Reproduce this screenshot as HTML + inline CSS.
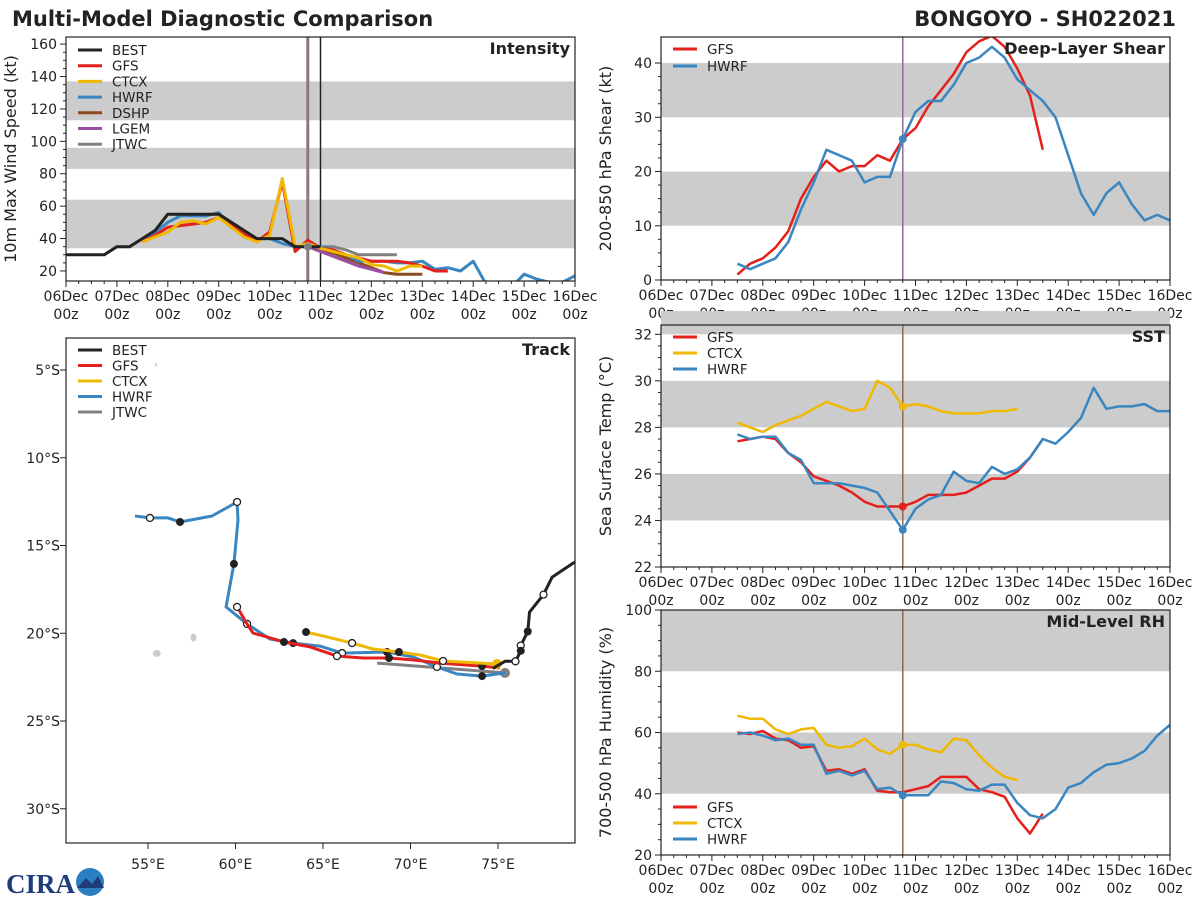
<!DOCTYPE html>
<html><head><meta charset="utf-8">
<style>
html,body{margin:0;padding:0;background:#fff;}
svg{display:block;font-family:"DejaVu Sans","Liberation Sans",sans-serif;}
</style></head>
<body>
<svg id="chart" width="1200" height="900" viewBox="0 0 1200 900" xmlns="http://www.w3.org/2000/svg">
<defs>
<clipPath id="clipInt"><rect x="66" y="37" width="509" height="244"/></clipPath>
<clipPath id="clipTrk"><rect x="66" y="338" width="509" height="505"/></clipPath>
<clipPath id="clipShr"><rect x="661" y="37" width="509" height="243"/></clipPath>
<clipPath id="clipSst"><rect x="661" y="325" width="509" height="242"/></clipPath>
<clipPath id="clipRh"><rect x="661" y="610" width="509" height="245"/></clipPath>
</defs>
<text x="12" y="26" font-size="21" font-weight="bold" fill="#222">Multi-Model Diagnostic Comparison</text>
<text x="1176" y="26" font-size="21" font-weight="bold" fill="#222" text-anchor="end">BONGOYO - SH022021</text>
<g>
<text x="6" y="893" font-size="27" font-weight="bold" fill="#1f3c7a" font-family="Liberation Serif,serif">CIRA</text>
<circle cx="90" cy="882" r="14" fill="#2a7fc0"/>
<path d="M77 888 L86 878 L92 884 L98 876 L104 888 Z" fill="#1f3c7a"/>
</g>
</svg>
<script>
// ---------- data ----------
const dayLabels = ["06Dec","07Dec","08Dec","09Dec","10Dec","11Dec","12Dec","13Dec","14Dec","15Dec","16Dec"];
const bestInt = [30,30,30,30,35,35,40,45,55,55,55,55,55,50,45,40,40,40,35,35,35];
const gfsInt  = [38,42,47,48,49,50,53,48,43,38,44,75,32,39,34,33,30,28,26,26,26,25,23,20,20];
const ctcxInt = [38,41,44,50,51,49,53,47,41,38,42,77,35,37,34,32,30,28,24,23,20,23,23];
const hwrfInt = [38,44,50,54,54,54,56,47,42,40,40,37,35,36,35,33,30,26,26,26,25,25,26,21,22,20,26,12,10,10,18,15,13,13,17,17];
const dshpInt = [35,33,31,28,25,22,19,18,18,18];
const lgemInt = [35,32,29,26,23,21,19];
const jtwcInt = [35,35,35,33,30,30,30,30];
const intTicks = [20,40,60,80,100,120,140,160];

const gfsShr  = [1,3,4,6,9,15,19,22,20,21,21,23,22,26,28,32,35,38,42,44,45,43,39,34,24];
const hwrfShr = [3,2,3,4,7,13,18,24,23,22,18,19,19,26,31,33,33,36,40,41,43,41,37,35,33,30,23,16,12,16,18,14,11,12,11];
const shrTicks = [0,10,20,30,40];

const gfsSst  = [27.4,27.5,27.6,27.5,26.9,26.5,25.9,25.7,25.5,25.2,24.8,24.6,24.6,24.6,24.8,25.1,25.1,25.1,25.2,25.5,25.8,25.8,26.1,26.7,27.5];
const hwrfSst = [27.7,27.5,27.6,27.6,26.9,26.6,25.6,25.6,25.6,25.5,25.4,25.2,24.4,23.6,24.5,24.9,25.1,26.1,25.7,25.6,26.3,26.0,26.2,26.7,27.5,27.3,27.8,28.4,29.7,28.8,28.9,28.9,29.0,28.7,28.7];
const ctcxSst = [28.2,28.0,27.8,28.1,28.3,28.5,28.8,29.1,28.9,28.7,28.8,30.0,29.7,28.9,29.0,28.9,28.7,28.6,28.6,28.6,28.7,28.7,28.8];
const sstTicks = [22,24,26,28,30,32];

const gfsRh  = [60,59.5,60.5,58,57.5,55,55.5,47.5,48,46.5,48,41,40.5,40.5,41.5,42.5,45.5,45.5,45.5,41.5,40.5,39,32,27,33.5];
const hwrfRh = [59.5,60,59,57.5,58,56,56,46.5,47.5,46,47.5,41.5,42,39.5,39.5,39.5,44,43.5,41.5,41,43,43,37,33,32,35,42,43.5,47,49.5,50,51.5,54,59,62.5];
const ctcxRh = [65.5,64.5,64.5,61,59.5,61,61.5,56,55,55.5,58,54.5,53,56,56,54.5,53.5,58,57.5,52.5,48.5,45.5,44.5];
const rhTicks = [20,40,60,80,100];

const bestLon = [80.2,79.3,78.1,77.6,76.8,76.7,76.3,76.3,76.0,75.4,74.7];
const bestLat = [15.5,16.0,16.8,17.8,18.8,19.9,20.7,21.0,21.6,21.6,22.0];
const bestMk  = ["","","","o","","f","o","f","o","",""];
const hwrfLon = [54.26,55.11,56.14,56.83,58.66,60.09,60.14,59.91,59.46,60.66,61.97,63.29,64.83,66.09,68.66,70.14,71.51,72.66,74.09,75.4];
const hwrfLat = [13.32,13.43,13.43,13.66,13.32,12.52,13.55,16.05,18.5,19.47,20.33,20.56,20.73,21.13,21.07,21.35,21.92,22.32,22.44,22.26];
const hwrfMk  = ["","o","","f","","o","","f","","o","","f","","o","f","","o","","f",""];
const gfsLon = [60.09,60.66,61.0,61.8,62.77,64.26,65.8,67.29,68.77,70.14,71.69,74.09,75.11];
const gfsLat = [18.5,19.47,19.99,20.21,20.5,20.78,21.3,21.41,21.41,21.52,21.7,21.87,21.98];
const gfsMk  = ["o","","","","f","","o","","f","","","f",""];
const ctcxLon = [64.03,65.23,66.66,67.86,69.34,70.54,71.86,74.94];
const ctcxLat = [19.93,20.21,20.56,20.9,21.07,21.24,21.58,21.75];
const ctcxMk  = ["f","","o","","f","","o","big"];
const jtwcLon = [68.09,75.4];
const jtwcLat = [21.7,22.26];
const lonTicks = [55,60,65,70,75];
const latTicks = [5,10,15,20,25,30];

// ---------- helpers ----------
const NS="http://www.w3.org/2000/svg";
const svg=document.getElementById('chart');
function mk(tag,attrs,parent){const e=document.createElementNS(NS,tag);for(const k in attrs)e.setAttribute(k,attrs[k]);(parent||svg).appendChild(e);return e;}
const C={best:"#222222",gfs:"#e4201c",ctcx:"#f0b800",hwrf:"#3a86c0",dshp:"#8b4a20",lgem:"#9b4ea3",jtwc:"#808080"};

function timePanel(x0,y0,w,h,ymin,ymax){
  return {x0,y0,w,h,
    X:t=>x0+t/240*w,
    Y:v=>y0+h-(v-ymin)/(ymax-ymin)*h};
}
function band(p,a,b,clip){
  const r=mk('rect',{x:p.x0,y:p.Y(b),width:p.w,height:p.Y(a)-p.Y(b),fill:"#cccccc","clip-path":clip});
  
  
}
function series(p,vals,startH,color,name,clip,width){
  const pts=vals.map((v,i)=>p.X(startH+i*6).toFixed(1)+","+p.Y(v).toFixed(1)).join(" ");
  const l=mk('polyline',{points:pts,fill:"none",stroke:color,"stroke-width":width||3,"stroke-linejoin":"round","clip-path":clip});
  
  
}
function dot(p,vals,startH,atH,color,name){
  const i=(atH-startH)/6;
  const c=mk('circle',{cx:p.X(atH),cy:p.Y(vals[i]),r:4,fill:color});
  
  
}
function frame(p,ticks,labelFmt,title,ylabel,xlabels){
  for(let hh=0;hh<=240;hh+=6){
    const x=p.X(hh), major=hh%24===0;
    mk('line',{x1:x,x2:x,y1:p.y0+p.h,y2:p.y0+p.h+(major?6:3),stroke:"#222","stroke-width":1});
  }
  if(xlabels){
    dayLabels.forEach((d,i)=>{
      const x=p.X(i*24);
      const t=mk('text',{x:x,y:p.y0+p.h+20,"font-size":14,"text-anchor":"middle",fill:"#222"});t.textContent=d;
      
      
      const t2=mk('text',{x:x,y:p.y0+p.h+38,"font-size":14,"text-anchor":"middle",fill:"#222"});t2.textContent="00z";
      
      
    });
  }
  ticks.forEach((v,i)=>{
    const y=p.Y(v);
    mk('line',{x1:p.x0-6,x2:p.x0,y1:y,y2:y,stroke:"#222"});
    const t=mk('text',{x:p.x0-9,y:y+5,"font-size":14,"text-anchor":"end",fill:"#222"});t.textContent=labelFmt(v);
    
    
    if(i<ticks.length-1){
      const step=(ticks[i+1]-v)/4;
      for(let k=1;k<4;k++){const yy=p.Y(v+k*step);mk('line',{x1:p.x0-3,x2:p.x0,y1:yy,y2:yy,stroke:"#222"});}
    }
  });
  const r=mk('rect',{x:p.x0,y:p.y0,width:p.w,height:p.h,fill:"none",stroke:"#222","stroke-width":1.2});
  
  
  const tt=mk('text',{x:p.x0+p.w-5,y:p.y0+17,"font-size":16,"font-weight":"bold","text-anchor":"end",fill:"#222"});tt.textContent=title;
  
  
  const cy=p.y0+p.h/2, cx=p.x0-50;
  const yl=mk('text',{x:cx,y:cy,"font-size":16,"text-anchor":"middle",fill:"#222",transform:`rotate(-90 ${cx} ${cy})`});yl.textContent=ylabel;
  
  
}
function legend(x,y,items,step){
  items.forEach((it,i)=>{
    const yy=y+i*step;
    mk('line',{x1:x,x2:x+24,y1:yy,y2:yy,stroke:it[1],"stroke-width":3});
    const t=mk('text',{x:x+34,y:yy+5,"font-size":13.5,fill:"#222"});t.textContent=it[0];
    
    
  });
}
function vline(p,h,color,w){mk('line',{x1:p.X(h),x2:p.X(h),y1:p.y0,y2:p.y0+p.h,stroke:color,"stroke-width":w||1.5});}

// ---------- intensity ----------
const pI=timePanel(66,37,509,244,13.8,164.4);
band(pI,34,64);band(pI,83,96);band(pI,113,137);
vline(pI,114,"#8a7a76",3);vline(pI,120,"#222",1.5);
series(pI,jtwcInt,114,C.jtwc,'jtwc-intensity','url(#clipInt)');
series(pI,dshpInt,114,C.dshp,'dshp-intensity','url(#clipInt)');
series(pI,lgemInt,114,C.lgem,'lgem-intensity','url(#clipInt)');
series(pI,hwrfInt,36,C.hwrf,'hwrf-intensity','url(#clipInt)');
series(pI,gfsInt,36,C.gfs,'gfs-intensity','url(#clipInt)');
series(pI,ctcxInt,36,C.ctcx,'ctcx-intensity','url(#clipInt)');
series(pI,bestInt,0,C.best,'best-intensity','url(#clipInt)');
dot(pI,jtwcInt,114,114,"#808080",'jtwc-start-dot');
frame(pI,intTicks,v=>v,"Intensity","10m Max Wind Speed (kt)",true);
legend(78,50,[["BEST",C.best],["GFS",C.gfs],["CTCX",C.ctcx],["HWRF",C.hwrf],["DSHP",C.dshp],["LGEM",C.lgem],["JTWC",C.jtwc]],15.7);

// ---------- shear ----------
const pS=timePanel(661,37,509,243,0,44.8);
band(pS,10,20);band(pS,30,40);
vline(pS,114,"#8e6a9a",1.5);
series(pS,gfsShr,36,C.gfs,'gfs-shear','url(#clipShr)',2.5);
series(pS,hwrfShr,36,C.hwrf,'hwrf-shear','url(#clipShr)',2.5);
dot(pS,hwrfShr,36,114,C.hwrf,'hwrf-shear-dot');
frame(pS,shrTicks,v=>v,"Deep-Layer Shear","200-850 hPa Shear (kt)",true);
legend(673,49,[["GFS",C.gfs],["HWRF",C.hwrf]],17);

// ---------- SST ----------
const pT=timePanel(661,325,509,242,22,32.4);
band(pT,24,26);band(pT,28,30);band(pT,32,33);
vline(pT,114,"#8a6a56",1.5);
series(pT,ctcxSst,36,C.ctcx,'ctcx-sst','url(#clipSst)',2.5);
series(pT,gfsSst,36,C.gfs,'gfs-sst','url(#clipSst)',2.5);
series(pT,hwrfSst,36,C.hwrf,'hwrf-sst','url(#clipSst)',2.5);
dot(pT,gfsSst,36,114,C.gfs,'gfs-sst-dot');dot(pT,hwrfSst,36,114,C.hwrf,'hwrf-sst-dot');dot(pT,ctcxSst,36,114,C.ctcx,'ctcx-sst-dot');
frame(pT,sstTicks,v=>v,"SST","Sea Surface Temp (°C)",true);
legend(673,337,[["GFS",C.gfs],["CTCX",C.ctcx],["HWRF",C.hwrf]],16);

// ---------- RH ----------
const pR=timePanel(661,610,509,245,20,100);
band(pR,40,60);band(pR,80,100);
vline(pR,114,"#8a6a56",1.5);
series(pR,ctcxRh,36,C.ctcx,'ctcx-rh','url(#clipRh)',2.5);
series(pR,gfsRh,36,C.gfs,'gfs-rh','url(#clipRh)',2.5);
series(pR,hwrfRh,36,C.hwrf,'hwrf-rh','url(#clipRh)',2.5);
dot(pR,ctcxRh,36,114,C.ctcx,'ctcx-rh-dot');dot(pR,hwrfRh,36,114,C.hwrf,'hwrf-rh-dot');
frame(pR,rhTicks,v=>v,"Mid-Level RH","700-500 hPa Humidity (%)",true);
legend(673,807,[["GFS",C.gfs],["CTCX",C.ctcx],["HWRF",C.hwrf]],16);

// ---------- track ----------
const LX=lon=>148+(lon-55)*17.5, LY=lat=>370+(lat-5)*17.55;
function island(lon,lat,rx,ry){const e=mk('ellipse',{cx:LX(lon),cy:LY(lat),rx,ry,fill:"#cccccc"});
  
  }
island(55.5,21.15,4,3.5);island(57.6,20.25,3,4);island(55.45,4.7,1,2);
function track(lons,lats,mks,color,name,w){
  const pts=lons.map((v,i)=>LX(v).toFixed(1)+","+LY(lats[i]).toFixed(1)).join(" ");
  const l=mk('polyline',{points:pts,fill:"none",stroke:color,"stroke-width":w||3,"stroke-linejoin":"round","clip-path":"url(#clipTrk)"});
  
  
  (mks||[]).forEach((m,i)=>{
    if(!m)return;
    let c;
    if(m==="o")c=mk('circle',{cx:LX(lons[i]),cy:LY(lats[i]),r:3.5,fill:"#fff",stroke:"#222","stroke-width":1.3});
    else if(m==="f")c=mk('circle',{cx:LX(lons[i]),cy:LY(lats[i]),r:4,fill:"#222"});
    else c=mk('circle',{cx:LX(lons[i]),cy:LY(lats[i]),r:5,fill:color});
    
    
  });
}
track(jtwcLon,jtwcLat,["","big"],C.jtwc,'jtwc-track');
track(hwrfLon,hwrfLat,hwrfMk,C.hwrf,'hwrf-track');
track(gfsLon,gfsLat,gfsMk,C.gfs,'gfs-track');
track(ctcxLon,ctcxLat,ctcxMk,C.ctcx,'ctcx-track');
track(bestLon,bestLat,bestMk,C.best,'best-track');
lonTicks.forEach(v=>{const x=LX(v);mk('line',{x1:x,x2:x,y1:843,y2:849,stroke:"#222"});
  const t=mk('text',{x:x,y:869,"font-size":14,"text-anchor":"middle",fill:"#222"});t.textContent=v+"°E";
  
  });
latTicks.forEach(v=>{const y=LY(v);mk('line',{x1:60,x2:66,y1:y,y2:y,stroke:"#222"});
  const t=mk('text',{x:60,y:y+5,"font-size":14,"text-anchor":"end",fill:"#222"});t.textContent=v+"°S";
  
  });
const tf=mk('rect',{x:66,y:338,width:509,height:505,fill:"none",stroke:"#222","stroke-width":1.2});


const tt=mk('text',{x:570,y:355,"font-size":16,"font-weight":"bold","text-anchor":"end",fill:"#222"});tt.textContent="Track";


legend(78,350,[["BEST",C.best],["GFS",C.gfs],["CTCX",C.ctcx],["HWRF",C.hwrf],["JTWC",C.jtwc]],15.5);
</script>
</body></html>
